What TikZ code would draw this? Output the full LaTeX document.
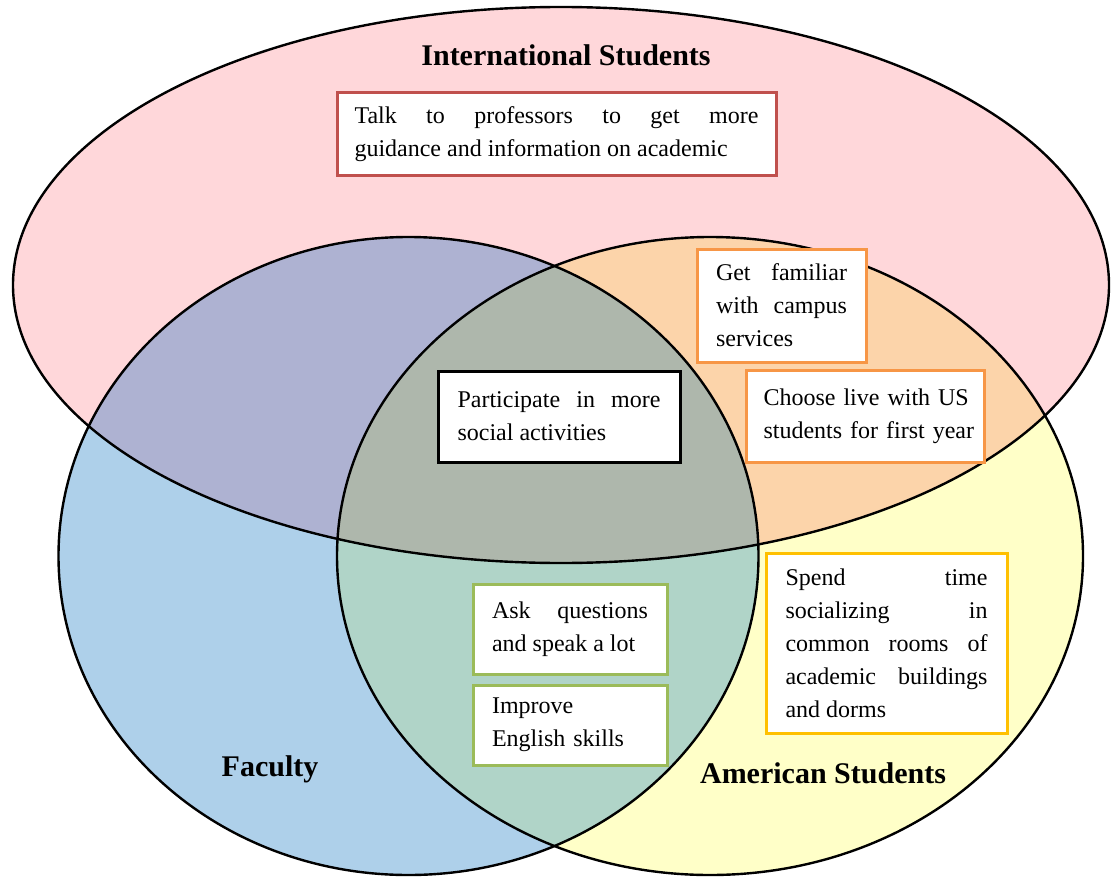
\documentclass[tikz,border=0pt]{standalone}
\usepackage{fontspec}
\setmainfont{Liberation Serif}
\usepackage{tikz}
\usetikzlibrary{positioning}

\definecolor{intlpink}{RGB}{255,215,218}
\definecolor{facblue}{RGB}{174,208,234}
\definecolor{amyellow}{RGB}{255,255,200}
\definecolor{ifpurple}{RGB}{174,178,210}
\definecolor{iaorange}{RGB}{252,212,170}
\definecolor{fateal}{RGB}{176,212,200}
\definecolor{allgrey}{RGB}{174,183,172}
\definecolor{redline}{RGB}{192,80,77}
\definecolor{orangeline}{RGB}{247,150,70}
\definecolor{greenline}{RGB}{155,187,89}
\definecolor{goldline}{RGB}{255,192,0}

\newcommand{\intlpath}{(intl) ellipse [x radius=274pt, y radius=139pt]}
\newcommand{\facpath}{(fac) ellipse [x radius=175pt, y radius=159.5pt]}
\newcommand{\ampath}{(am) ellipse [x radius=186.5pt, y radius=159.5pt]}

\begin{document}
\begin{tikzpicture}[x=0.5pt,y=-0.5pt,
	tbox/.style={draw=#1, line width=1.5pt, fill=white, inner sep=0pt,
		align=justify, font=\fontsize{12}{16.5}\selectfont,
		execute at begin node={\tolerance=10000\hyphenpenalty=10000}},
	setname/.style={font=\fontsize{15}{18}\selectfont\bfseries}]

	\useasboundingbox (0,0) rectangle (1111,877);

	\coordinate (intl) at (561,285);
	\coordinate (fac) at (408.5,556);
	\coordinate (am) at (710,556);

	% the three sets
	\fill[intlpink] \intlpath;
	\fill[facblue] \facpath;
	\fill[amyellow] \ampath;
	\begin{scope}
		\clip \facpath;
		\fill[fateal] \ampath;
	\end{scope}
	\begin{scope}
		\clip \intlpath;
		\fill[ifpurple] \facpath;
		\fill[iaorange] \ampath;
		\clip \facpath;
		\fill[allgrey] \ampath;
	\end{scope}
	\draw[line width=1.2pt] \intlpath;
	\draw[line width=1.2pt] \facpath;
	\draw[line width=1.2pt] \ampath;

	\node (intlname)[setname] at (566,55) {International Students};
	\node (facname)[setname] at (270,769) {Faculty};
	\node (amname)[setname] at (823,773) {American Students};

	\node (talk)[tbox=redline, minimum width=219.5pt, minimum height=41.5pt, text width=202pt] at (556.5,134.5)
		{Talk to professors to get more\linebreak guidance and information on academic};
	\node (campus)[tbox=orangeline, minimum width=84.5pt, minimum height=56.5pt, text width=65.5pt] at (781.5,305.5)
		{Get familiar\linebreak with campus\linebreak services};
	\node (livewith)[tbox=orangeline, align=left, minimum width=119pt, minimum height=46pt, text width=102pt] at (865.5,416)
		{\mbox{Choose live with US}\\ \mbox{students for first year}};
	\node (social)[tbox=black, minimum width=121pt, minimum height=45.5pt, text width=101.5pt] at (559,416.5)
		{Participate in more\linebreak social activities};
	\node (ask)[tbox=greenline, minimum width=97pt, minimum height=45pt, text width=78pt] at (570,629)
		{Ask questions\linebreak and speak a lot};
	\node (english)[tbox=greenline, align=left, minimum width=97pt, minimum height=40pt, text width=78pt] at (570,725)
		{Improve\\ English skills};
	\node (spend)[tbox=goldline, minimum width=120.5pt, minimum height=90pt, text width=101pt] at (886.5,643)
		{Spend time\linebreak socializing in\linebreak common rooms of\linebreak academic buildings\linebreak and dorms};

\end{tikzpicture}
\end{document}
